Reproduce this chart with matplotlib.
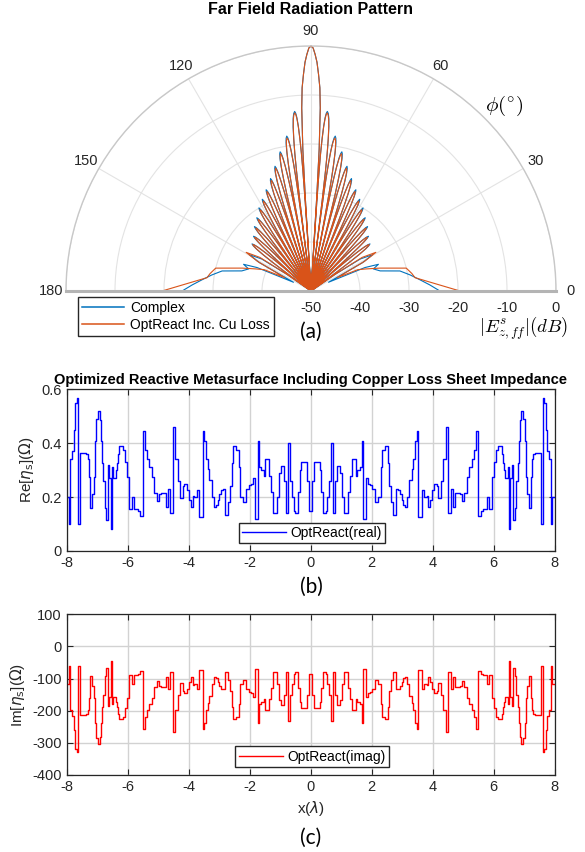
import numpy as np
import matplotlib
matplotlib.use("Agg")
import matplotlib.pyplot as plt
from matplotlib.transforms import offset_copy

plt.rcParams['font.family'] = ['Liberation Sans', 'DejaVu Sans']

# ---------------- (a) far-field pattern data (right half, mirrored about 90 deg) ----------
# main lobe: angular offset from broadside (deg) and level (dB)
main_off_deg = [3.6, 3.5, 3.3, 2.9, 2.5, 2.0, 1.5, 1.0, 0.5, 0.0]
main_db = [-50.0, -31.0, -21.0, -12.6, -8.5, -5.8, -3.3, -1.7, -0.4, 0.0]
# side-lobe nulls and peaks (deg)
null_deg = [86.4, 82.8, 79.2, 75.5, 71.8, 68.0, 64.1, 60.0, 55.8, 51.3, 46.6, 41.4, 35.7]
peak_deg = [84.8, 81.1, 77.5, 73.9, 70.2, 66.1, 62.0, 57.9, 53.5, 48.7, 43.6, 38.6]
peak_db_opt = [-13.5, -18.4, -21.3, -23.9, -26.0, -27.8, -29.2, -30.4, -31.8, -32.9, -34.1, -34.8]
peak_db_cplx = [-13.2, -18.0, -20.9, -23.5, -25.6, -27.4, -28.8, -30.0, -31.4, -32.5, -33.8, -34.6]
# petal contour: fraction of null->peak span, level below peak (dB)
petal_frac = [0.0, 0.04, 0.08, 0.16, 0.24, 0.36, 0.5, 0.66, 0.82, 1.0]
petal_drop = [-60.0, -24.0, -18.0, -12.0, -8.5, -5.5, -3.0, -1.3, -0.4, 0.0]
# low-angle tail (deg, dB)
tail_deg_opt = [34.6, 33.3, 30.8, 29.0, 27.0, 24.5, 22.0, 18.4, 13.5, 9.8, 7.3, 3.0, 0.0]
tail_db_opt = [-44, -37.5, -34.6, -37.5, -44, -39.5, -38, -35.2, -30.0, -29.1, -28.6, -24.1, -19.6]
tail_deg_cplx = [34.6, 33.0, 30.5, 28.8, 26.5, 23.5, 21.6, 19.5, 16.2, 12.7, 9.2, 5.8, 2.9, 0.0]
tail_db_cplx = [-44, -38, -35.4, -38, -46, -38, -35.2, -36.5, -35.3, -31.4, -29.5, -27.6, -25.7, -23.7]

# ---------------- (b), (c) sheet impedance (x >= 0 half, mirrored about x = 0) ----------
x_edges_half = [0, 0.05, 0.10, 0.30, 0.35, 0.40, 0.50, 0.55, 0.62, 0.68, 0.74, 0.80, 0.86, 0.98, 1.04,
                1.10, 1.22, 1.28, 1.36, 1.48, 1.54, 1.62, 1.68, 1.73, 1.81, 1.87, 1.95, 2.02, 2.10, 2.22,
                2.30, 2.36, 2.44, 2.53, 2.58, 2.63, 2.70, 2.79, 2.88, 2.93, 2.99, 3.04, 3.10, 3.16, 3.22,
                3.32, 3.37, 3.43, 3.48, 3.54, 3.65, 3.73, 3.81, 3.86, 3.92, 3.97, 4.06, 4.14, 4.19, 4.28,
                4.35, 4.43, 4.50, 4.61, 4.68, 4.74, 4.90, 4.98, 5.04, 5.12, 5.20, 5.29, 5.37, 5.44, 5.50,
                5.60, 5.67, 5.78, 5.85, 5.96, 6.02, 6.08, 6.14, 6.27, 6.31, 6.34, 6.38, 6.47, 6.52, 6.55,
                6.60, 6.63, 6.70, 6.75, 6.79, 6.83, 6.87, 6.91, 6.98, 7.02, 7.06, 7.11, 7.15, 7.22, 7.26,
                7.31, 7.37, 7.55, 7.62, 7.67, 7.71, 7.77, 7.82, 7.88, 7.93, 8.00]
re_half = [0.15, 0.26, 0.33, 0.30, 0.22, 0.14, 0.15, 0.20, 0.26, 0.40,
           0.14, 0.26, 0.315, 0.29, 0.20, 0.14, 0.22, 0.28, 0.34, 0.28,
           0.30, 0.31, 0.41, 0.12, 0.27, 0.25, 0.245, 0.23, 0.18, 0.20,
           0.31, 0.375, 0.39, 0.325, 0.24, 0.18, 0.135, 0.23, 0.225, 0.21,
           0.19, 0.17, 0.165, 0.20, 0.265, 0.305, 0.34, 0.41, 0.445, 0.125,
           0.225, 0.20, 0.205, 0.165, 0.19, 0.225, 0.25, 0.24, 0.195, 0.26,
           0.34, 0.46, 0.14, 0.23, 0.165, 0.215, 0.21, 0.185, 0.215, 0.275,
           0.31, 0.34, 0.375, 0.445, 0.13, 0.15, 0.155, 0.20, 0.155, 0.275,
           0.33, 0.375, 0.39, 0.36, 0.325, 0.30, 0.27, 0.31, 0.08, 0.27,
           0.32, 0.115, 0.16, 0.26, 0.325, 0.41, 0.486, 0.52, 0.49, 0.41,
           0.275, 0.21, 0.158, 0.275, 0.34, 0.36, 0.365, 0.10, 0.566, 0.55,
           0.45, 0.37, 0.34, 0.10, 0.20]
im_half = [-87, -151, -191, -174, -128, -81, -87, -116, -151, -232,
           -81, -151, -183, -168, -116, -81, -128, -162, -197, -162,
           -174, -180, -238, -70, -157, -145, -142, -133, -104, -116,
           -180, -218, -226, -189, -139, -104, -78, -133, -131, -122,
           -110, -99, -96, -116, -154, -177, -197, -238, -258, -73,
           -131, -116, -119, -96, -110, -131, -145, -139, -113, -151,
           -197, -267, -81, -133, -96, -125, -122, -107, -125, -160,
           -180, -197, -218, -258, -75, -87, -90, -116, -90, -160,
           -191, -218, -226, -209, -189, -174, -157, -180, -46, -157,
           -186, -67, -93, -151, -189, -238, -282, -302, -284, -238,
           -160, -122, -92, -160, -197, -209, -212, -60, -328, -319,
           -261, -215, -197, -60, -116]

x_ticks = [-8, -6, -4, -2, 0, 2, 4, 6, 8]
re_ticks = [0, 0.2, 0.4, 0.6]
im_ticks = [-400, -300, -200, -100, 0, 100]
r_ticks = [-50, -40, -30, -20, -10, 0]
theta_ticks = [0, 30, 60, 90, 120, 150, 180]

C_BLUE = '#0072BD'
C_ORANGE = '#D95319'
TXT = '#262626'
W, H = 585, 852


def build_pattern(peaks, tail_deg, tail_db):
    th, r = [], []
    for o, d in zip(main_off_deg[::-1], main_db[::-1]):
        th.append(90 - o); r.append(d)
    for k in range(len(peaks)):
        a, p, b = null_deg[k], peak_deg[k], null_deg[k + 1]
        for f, dr in zip(petal_frac[1:], petal_drop[1:]):
            th.append(a + (p - a) * f); r.append(max(peaks[k] + dr, -50))
        for f, dr in zip(petal_frac[::-1][1:], petal_drop[::-1][1:]):
            th.append(b + (p - b) * f); r.append(max(peaks[k] + dr, -50))
    th += list(tail_deg); r += list(tail_db)
    th = np.array(th); r = np.array(r)
    full_th = np.concatenate([180 - th[::-1], th[1:]])
    full_r = np.concatenate([r[::-1], r[1:]])
    return np.deg2rad(full_th), full_r


def build_steps(half):
    e = np.array(x_edges_half)
    v = np.array(half, dtype=float)
    edges = np.concatenate([-e[::-1], e[1:]])
    vals = np.concatenate([v[::-1], v])
    return edges, np.append(vals, vals[-1])


fig = plt.figure(figsize=(W / 100, H / 100), dpi=100)


def fx(px):
    return px / W


def fy(py):
    return 1 - py / H


# ---------------- (a) polar ----------------
R = 245.0
CX, CY = 311.0, 291.0
axp = fig.add_axes([fx(CX - R), fy(CY + R / 2), 2 * R / W, 2 * R / H], projection='polar')
axp.set_thetamin(0)
axp.set_thetamax(180)
axp.set_rlim(-50, 0)
axp.set_rticks(r_ticks)
axp.set_yticklabels([])
axp.set_thetagrids(theta_ticks, [str(t) for t in theta_ticks])
axp.tick_params(axis='x', pad=0, labelsize=10.5, labelcolor=TXT)
axp.grid(True, color='#e3e3e3', lw=0.8)
axp.spines['polar'].set_color('#c8c8c8')
axp.spines['polar'].set_linewidth(1.0)
for s in ['start', 'end']:
    axp.spines[s].set_color('#b4b4b4')
    axp.spines[s].set_linewidth(2.2)
axp.patch.set_alpha(0)

th_c, r_c = build_pattern(peak_db_cplx, tail_deg_cplx, tail_db_cplx)
th_o, r_o = build_pattern(peak_db_opt, tail_deg_opt, tail_db_opt)
l1, = axp.plot(th_c, r_c, color=C_BLUE, lw=0.8, label='Complex', clip_on=False)
l2, = axp.plot(th_o, r_o, color=C_ORANGE, lw=0.8, label='OptReact Inc. Cu Loss', clip_on=False)

off = offset_copy(axp.transData, fig=fig, y=-17, units='dots')
for rv in r_ticks:
    axp.text(0, rv, str(rv), transform=off, ha='center', va='center', fontsize=10.5, color=TXT)

fig.text(fx(311), fy(10), 'Far Field Radiation Pattern', ha='center', va='center',
         fontsize=11.5, fontweight='bold')
fig.text(fx(504), fy(106), r'$\phi(^{\circ})$', ha='center', va='center', fontsize=15,
         math_fontfamily='cm')
fig.text(fx(523), fy(328), r'$|E^{s}_{z,ff}|(dB)$', ha='center', va='center', fontsize=13.5,
         math_fontfamily='cm')
fig.text(fx(311), fy(332), '(a)', ha='center', va='center', fontsize=15, family=['Lato', 'DejaVu Sans'])
leg = fig.legend([l1, l2], ['Complex', 'OptReact Inc. Cu Loss'], loc='center',
                 bbox_to_anchor=(fx(176), fy(316.5)), fancybox=False, edgecolor=TXT, framealpha=1,
                 fontsize=10, handlelength=3.0, borderpad=0.3, labelspacing=0.25, handletextpad=0.5)
for h in leg.get_lines():
    h.set_linewidth(1.1)


def style_cart(ax, yticks, ylim):
    ax.set_xlim(-8, 8)
    ax.set_ylim(*ylim)
    ax.set_xticks(x_ticks)
    ax.set_xticklabels([str(t) for t in x_ticks])
    ax.set_yticks(yticks)
    ax.set_yticklabels([('%g' % t) for t in yticks])
    ax.grid(True, color='#d2d2d2', lw=1.0)
    ax.set_axisbelow(True)
    ax.tick_params(direction='in', length=4, width=0.8, top=True, right=True,
                   labelsize=10.5, colors=TXT, labelcolor=TXT)
    for s in ax.spines.values():
        s.set_color(TXT)
        s.set_linewidth(0.9)


# ---------------- (b) real part ----------------
axb = fig.add_axes([fx(66.5), fy(551), 488 / W, (551 - 389.3) / H])
xe, ye = build_steps(re_half)
lb, = axb.plot(xe, ye, drawstyle='steps-post', color='#0000FF', lw=1.0)
style_cart(axb, re_ticks, (0, 0.6))
axb.set_ylabel(r'Re[$\eta_{\rm s}$]($\Omega$)', fontsize=11, color=TXT, labelpad=4)
fig.text(fx(311), fy(380), 'Optimized Reactive Metasurface Including Copper Loss Sheet Impedance',
         ha='center', va='center', fontsize=10.5, fontweight='bold')
axb.legend([lb], ['OptReact(real)'], loc='center', bbox_to_anchor=(fx(312), fy(533)),
           bbox_transform=fig.transFigure, fancybox=False, edgecolor=TXT, framealpha=1,
           fontsize=10, handlelength=3.2, borderpad=0.25, handletextpad=0.3)
fig.text(fx(311), fy(587), '(b)', ha='center', va='center', fontsize=15, family=['Lato', 'DejaVu Sans'])

# ---------------- (c) imaginary part ----------------
axc = fig.add_axes([fx(66.5), fy(775), 488 / W, (775 - 614.3) / H])
xe, ye = build_steps(im_half)
lc, = axc.plot(xe, ye, drawstyle='steps-post', color='#FF0000', lw=1.0)
style_cart(axc, im_ticks, (-400, 100))
axc.set_ylabel(r'Im[$\eta_{\rm s}$]($\Omega$)', fontsize=11, color=TXT, labelpad=4)
axc.set_xlabel(r'x($\lambda$)', fontsize=11, color=TXT, labelpad=4)
axc.legend([lc], ['OptReact(imag)'], loc='center', bbox_to_anchor=(fx(312), fy(756.5)),
           bbox_transform=fig.transFigure, fancybox=False, edgecolor=TXT, framealpha=1,
           fontsize=10, handlelength=3.2, borderpad=0.25, handletextpad=0.3)
fig.text(fx(311), fy(838), '(c)', ha='center', va='center', fontsize=15, family=['Lato', 'DejaVu Sans'])

fig.savefig('out.png', dpi=100)
